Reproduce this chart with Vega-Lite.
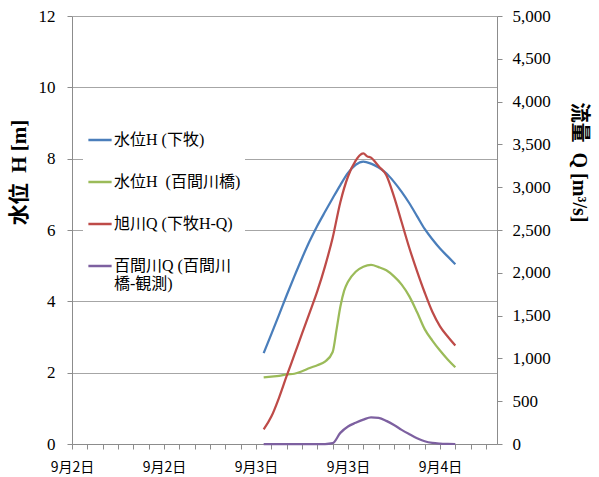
{
  "$schema": "https://vega.github.io/schema/vega-lite/v6.json",
  "autosize": {"type": "none"},
  "padding": {"left": 72, "top": 16, "right": 102, "bottom": 33},
  "width": 425,
  "height": 428,
  "background": "white",
  "datasets": {
    "level": [
      {"t": "2011-09-03T01:00", "s": "水位H (下牧)", "v": 2.55},
      {"t": "2011-09-03T02:00", "s": "水位H (下牧)", "v": 3.08},
      {"t": "2011-09-03T03:00", "s": "水位H (下牧)", "v": 3.62},
      {"t": "2011-09-03T04:00", "s": "水位H (下牧)", "v": 4.17},
      {"t": "2011-09-03T05:00", "s": "水位H (下牧)", "v": 4.70},
      {"t": "2011-09-03T06:00", "s": "水位H (下牧)", "v": 5.21},
      {"t": "2011-09-03T07:00", "s": "水位H (下牧)", "v": 5.69},
      {"t": "2011-09-03T08:00", "s": "水位H (下牧)", "v": 6.12},
      {"t": "2011-09-03T09:00", "s": "水位H (下牧)", "v": 6.51},
      {"t": "2011-09-03T10:00", "s": "水位H (下牧)", "v": 6.89},
      {"t": "2011-09-03T11:00", "s": "水位H (下牧)", "v": 7.26},
      {"t": "2011-09-03T12:00", "s": "水位H (下牧)", "v": 7.60},
      {"t": "2011-09-03T13:00", "s": "水位H (下牧)", "v": 7.83},
      {"t": "2011-09-03T14:00", "s": "水位H (下牧)", "v": 7.92},
      {"t": "2011-09-03T15:00", "s": "水位H (下牧)", "v": 7.86},
      {"t": "2011-09-03T16:00", "s": "水位H (下牧)", "v": 7.75},
      {"t": "2011-09-03T17:00", "s": "水位H (下牧)", "v": 7.59},
      {"t": "2011-09-03T18:00", "s": "水位H (下牧)", "v": 7.35},
      {"t": "2011-09-03T19:00", "s": "水位H (下牧)", "v": 7.07},
      {"t": "2011-09-03T20:00", "s": "水位H (下牧)", "v": 6.75},
      {"t": "2011-09-03T21:00", "s": "水位H (下牧)", "v": 6.39},
      {"t": "2011-09-03T22:00", "s": "水位H (下牧)", "v": 6.03},
      {"t": "2011-09-03T23:00", "s": "水位H (下牧)", "v": 5.74},
      {"t": "2011-09-04T00:00", "s": "水位H (下牧)", "v": 5.48},
      {"t": "2011-09-04T01:00", "s": "水位H (下牧)", "v": 5.26},
      {"t": "2011-09-04T02:00", "s": "水位H (下牧)", "v": 5.04},
      {"t": "2011-09-03T01:00", "s": "水位H  (百間川橋)", "v": 1.87},
      {"t": "2011-09-03T02:00", "s": "水位H  (百間川橋)", "v": 1.89},
      {"t": "2011-09-03T03:00", "s": "水位H  (百間川橋)", "v": 1.91},
      {"t": "2011-09-03T04:00", "s": "水位H  (百間川橋)", "v": 1.95},
      {"t": "2011-09-03T05:00", "s": "水位H  (百間川橋)", "v": 1.97},
      {"t": "2011-09-03T06:00", "s": "水位H  (百間川橋)", "v": 2.04},
      {"t": "2011-09-03T07:00", "s": "水位H  (百間川橋)", "v": 2.13},
      {"t": "2011-09-03T08:00", "s": "水位H  (百間川橋)", "v": 2.21},
      {"t": "2011-09-03T09:00", "s": "水位H  (百間川橋)", "v": 2.31},
      {"t": "2011-09-03T10:00", "s": "水位H  (百間川橋)", "v": 2.58},
      {"t": "2011-09-03T10:30", "s": "水位H  (百間川橋)", "v": 3.20},
      {"t": "2011-09-03T11:00", "s": "水位H  (百間川橋)", "v": 3.85},
      {"t": "2011-09-03T11:30", "s": "水位H  (百間川橋)", "v": 4.30},
      {"t": "2011-09-03T12:00", "s": "水位H  (百間川橋)", "v": 4.55},
      {"t": "2011-09-03T13:00", "s": "水位H  (百間川橋)", "v": 4.83},
      {"t": "2011-09-03T14:00", "s": "水位H  (百間川橋)", "v": 4.97},
      {"t": "2011-09-03T15:00", "s": "水位H  (百間川橋)", "v": 5.02},
      {"t": "2011-09-03T16:00", "s": "水位H  (百間川橋)", "v": 4.96},
      {"t": "2011-09-03T17:00", "s": "水位H  (百間川橋)", "v": 4.87},
      {"t": "2011-09-03T18:00", "s": "水位H  (百間川橋)", "v": 4.70},
      {"t": "2011-09-03T19:00", "s": "水位H  (百間川橋)", "v": 4.47},
      {"t": "2011-09-03T20:00", "s": "水位H  (百間川橋)", "v": 4.14},
      {"t": "2011-09-03T21:00", "s": "水位H  (百間川橋)", "v": 3.70},
      {"t": "2011-09-03T22:00", "s": "水位H  (百間川橋)", "v": 3.22},
      {"t": "2011-09-03T23:00", "s": "水位H  (百間川橋)", "v": 2.90},
      {"t": "2011-09-04T00:00", "s": "水位H  (百間川橋)", "v": 2.62},
      {"t": "2011-09-04T01:00", "s": "水位H  (百間川橋)", "v": 2.37},
      {"t": "2011-09-04T02:00", "s": "水位H  (百間川橋)", "v": 2.15}
    ],
    "flow": [
      {"t": "2011-09-03T01:00", "s": "旭川Q (下牧H-Q)", "v": 170},
      {"t": "2011-09-03T02:00", "s": "旭川Q (下牧H-Q)", "v": 320},
      {"t": "2011-09-03T03:00", "s": "旭川Q (下牧H-Q)", "v": 540},
      {"t": "2011-09-03T04:00", "s": "旭川Q (下牧H-Q)", "v": 795},
      {"t": "2011-09-03T05:00", "s": "旭川Q (下牧H-Q)", "v": 1040},
      {"t": "2011-09-03T06:00", "s": "旭川Q (下牧H-Q)", "v": 1290},
      {"t": "2011-09-03T07:00", "s": "旭川Q (下牧H-Q)", "v": 1535},
      {"t": "2011-09-03T08:00", "s": "旭川Q (下牧H-Q)", "v": 1785},
      {"t": "2011-09-03T09:00", "s": "旭川Q (下牧H-Q)", "v": 2075},
      {"t": "2011-09-03T10:00", "s": "旭川Q (下牧H-Q)", "v": 2410},
      {"t": "2011-09-03T11:00", "s": "旭川Q (下牧H-Q)", "v": 2825},
      {"t": "2011-09-03T12:00", "s": "旭川Q (下牧H-Q)", "v": 3125},
      {"t": "2011-09-03T13:00", "s": "旭川Q (下牧H-Q)", "v": 3310},
      {"t": "2011-09-03T13:30", "s": "旭川Q (下牧H-Q)", "v": 3370},
      {"t": "2011-09-03T14:00", "s": "旭川Q (下牧H-Q)", "v": 3395},
      {"t": "2011-09-03T14:30", "s": "旭川Q (下牧H-Q)", "v": 3360},
      {"t": "2011-09-03T15:00", "s": "旭川Q (下牧H-Q)", "v": 3345},
      {"t": "2011-09-03T15:30", "s": "旭川Q (下牧H-Q)", "v": 3300},
      {"t": "2011-09-03T16:00", "s": "旭川Q (下牧H-Q)", "v": 3245},
      {"t": "2011-09-03T17:00", "s": "旭川Q (下牧H-Q)", "v": 3140},
      {"t": "2011-09-03T18:00", "s": "旭川Q (下牧H-Q)", "v": 2890},
      {"t": "2011-09-03T19:00", "s": "旭川Q (下牧H-Q)", "v": 2590},
      {"t": "2011-09-03T20:00", "s": "旭川Q (下牧H-Q)", "v": 2290},
      {"t": "2011-09-03T21:00", "s": "旭川Q (下牧H-Q)", "v": 2020},
      {"t": "2011-09-03T22:00", "s": "旭川Q (下牧H-Q)", "v": 1770},
      {"t": "2011-09-03T23:00", "s": "旭川Q (下牧H-Q)", "v": 1545},
      {"t": "2011-09-04T00:00", "s": "旭川Q (下牧H-Q)", "v": 1375},
      {"t": "2011-09-04T01:00", "s": "旭川Q (下牧H-Q)", "v": 1255},
      {"t": "2011-09-04T02:00", "s": "旭川Q (下牧H-Q)", "v": 1150},
      {"t": "2011-09-03T01:00", "s": "百間川Q (百間川橋-観測)", "v": 0},
      {"t": "2011-09-03T03:00", "s": "百間川Q (百間川橋-観測)", "v": 0},
      {"t": "2011-09-03T05:00", "s": "百間川Q (百間川橋-観測)", "v": 0},
      {"t": "2011-09-03T07:00", "s": "百間川Q (百間川橋-観測)", "v": 0},
      {"t": "2011-09-03T09:00", "s": "百間川Q (百間川橋-観測)", "v": 0},
      {"t": "2011-09-03T10:00", "s": "百間川Q (百間川橋-観測)", "v": 10},
      {"t": "2011-09-03T11:00", "s": "百間川Q (百間川橋-観測)", "v": 130},
      {"t": "2011-09-03T12:00", "s": "百間川Q (百間川橋-観測)", "v": 205},
      {"t": "2011-09-03T13:00", "s": "百間川Q (百間川橋-観測)", "v": 248},
      {"t": "2011-09-03T14:00", "s": "百間川Q (百間川橋-観測)", "v": 285},
      {"t": "2011-09-03T15:00", "s": "百間川Q (百間川橋-観測)", "v": 312},
      {"t": "2011-09-03T16:00", "s": "百間川Q (百間川橋-観測)", "v": 305},
      {"t": "2011-09-03T17:00", "s": "百間川Q (百間川橋-観測)", "v": 270},
      {"t": "2011-09-03T18:00", "s": "百間川Q (百間川橋-観測)", "v": 222},
      {"t": "2011-09-03T19:00", "s": "百間川Q (百間川橋-観測)", "v": 165},
      {"t": "2011-09-03T20:00", "s": "百間川Q (百間川橋-観測)", "v": 115},
      {"t": "2011-09-03T21:00", "s": "百間川Q (百間川橋-観測)", "v": 68},
      {"t": "2011-09-03T22:00", "s": "百間川Q (百間川橋-観測)", "v": 32},
      {"t": "2011-09-03T23:00", "s": "百間川Q (百間川橋-観測)", "v": 12},
      {"t": "2011-09-04T00:00", "s": "百間川Q (百間川橋-観測)", "v": 4},
      {"t": "2011-09-04T01:00", "s": "百間川Q (百間川橋-観測)", "v": 1},
      {"t": "2011-09-04T02:00", "s": "百間川Q (百間川橋-観測)", "v": 0}
    ]
  },
  "encoding": {
    "x": {
      "field": "t",
      "type": "temporal",
      "scale": {
        "domain": [
          {"year": 2011, "month": 9, "date": 2, "hours": 0},
          {"year": 2011, "month": 9, "date": 4, "hours": 7, "minutes": 26}
        ]
      },
      "axis": {
        "title": null,
        "grid": false,
        "values": [
          {"year": 2011, "month": 9, "date": 2, "hours": 0},
          {"year": 2011, "month": 9, "date": 2, "hours": 2},
          {"year": 2011, "month": 9, "date": 2, "hours": 4},
          {"year": 2011, "month": 9, "date": 2, "hours": 6},
          {"year": 2011, "month": 9, "date": 2, "hours": 8},
          {"year": 2011, "month": 9, "date": 2, "hours": 10},
          {"year": 2011, "month": 9, "date": 2, "hours": 12},
          {"year": 2011, "month": 9, "date": 2, "hours": 14},
          {"year": 2011, "month": 9, "date": 2, "hours": 16},
          {"year": 2011, "month": 9, "date": 2, "hours": 18},
          {"year": 2011, "month": 9, "date": 2, "hours": 20},
          {"year": 2011, "month": 9, "date": 2, "hours": 22},
          {"year": 2011, "month": 9, "date": 3, "hours": 0},
          {"year": 2011, "month": 9, "date": 3, "hours": 2},
          {"year": 2011, "month": 9, "date": 3, "hours": 4},
          {"year": 2011, "month": 9, "date": 3, "hours": 6},
          {"year": 2011, "month": 9, "date": 3, "hours": 8},
          {"year": 2011, "month": 9, "date": 3, "hours": 10},
          {"year": 2011, "month": 9, "date": 3, "hours": 12},
          {"year": 2011, "month": 9, "date": 3, "hours": 14},
          {"year": 2011, "month": 9, "date": 3, "hours": 16},
          {"year": 2011, "month": 9, "date": 3, "hours": 18},
          {"year": 2011, "month": 9, "date": 3, "hours": 20},
          {"year": 2011, "month": 9, "date": 3, "hours": 22},
          {"year": 2011, "month": 9, "date": 4, "hours": 0},
          {"year": 2011, "month": 9, "date": 4, "hours": 2},
          {"year": 2011, "month": 9, "date": 4, "hours": 4},
          {"year": 2011, "month": 9, "date": 4, "hours": 6}
        ],
        "labelExpr": "hours(datum.value) % 12 === 0 ? timeFormat(datum.value, '%-m月%-d日') : ''",
        "tickSize": 5,
        "labelFont": "Noto Sans CJK JP",
        "labelFontSize": 14,
        "labelColor": "#000000",
        "labelPadding": 11,
        "labelFlush": false,
        "labelOverlap": false,
        "domainColor": "#8c8c8c",
        "tickColor": "#8c8c8c",
        "encode": {
          "ticks": {
            "update": {
              "y": {"signal": "hours(datum.value) % 12 === 0 ? -3 : -4"},
              "y2": {"signal": "hours(datum.value) % 12 === 0 ? 5 : 0"}
            }
          }
        }
      }
    },
    "color": {
      "field": "s",
      "type": "nominal",
      "scale": {
        "domain": ["水位H (下牧)", "水位H  (百間川橋)", "旭川Q (下牧H-Q)", "百間川Q (百間川橋-観測)"],
        "range": ["#4a7ebb", "#9bbb59", "#be4b48", "#7d60a0"]
      },
      "legend": {
        "orient": "none",
        "legendX": 11,
        "legendY": 107,
        "title": null,
        "fillColor": "white",
        "padding": 4,
        "rowPadding": 21,
        "symbolType": "stroke",
        "symbolSize": 540,
        "symbolStrokeWidth": 2.5,
        "labelOffset": 1,
        "labelFont": "Liberation Serif, Noto Sans CJK JP",
        "labelFontSize": 16,
        "labelColor": "#000000",
        "labelLimit": 300,
        "labelExpr": "datum.label === '百間川Q (百間川橋-観測)' ? ['百間川Q (百間川', '橋-観測)'] : datum.label === '水位H  (百間川橋)' ? '水位H\u00a0 (百間川橋)' : datum.label"
      }
    }
  },
  "layer": [
    {
      "data": {"name": "level"},
      "mark": {"type": "line", "strokeWidth": 2.25, "interpolate": "monotone"},
      "encoding": {
        "y": {
          "field": "v",
          "type": "quantitative",
          "scale": {"domain": [0, 12], "nice": false},
          "axis": {
            "orient": "left",
            "values": [0, 2, 4, 6, 8, 10, 12],
            "title": "水位\u00a0 H [m]",
            "titleFont": "Liberation Serif, Noto Sans CJK JP",
            "titleFontSize": 21,
            "titleFontWeight": "bold",
            "titleColor": "#000000",
            "titleX": -53,
            "titleY": 156,
            "titleBaseline": "middle",
            "titleAngle": -90,
            "labelFont": "Liberation Serif",
            "labelFontSize": 17,
            "labelColor": "#000000",
            "labelPadding": 12,
            "tickSize": 5,
            "tickColor": "#8c8c8c",
            "domainColor": "#8c8c8c",
            "grid": true,
            "gridColor": "#a6a6a6",
            "gridWidth": 1
          }
        }
      }
    },
    {
      "data": {"name": "flow"},
      "mark": {"type": "line", "strokeWidth": 2.25, "interpolate": "monotone"},
      "encoding": {
        "y": {
          "field": "v",
          "type": "quantitative",
          "scale": {"domain": [0, 5000], "nice": false},
          "axis": {
            "orient": "right",
            "values": [0, 500, 1000, 1500, 2000, 2500, 3000, 3500, 4000, 4500, 5000],
            "format": ",.0f",
            "title": "流量\u00a0 Q [m³/s]",
            "titleFont": "Liberation Serif, Noto Sans CJK JP",
            "titleFontSize": 20,
            "titleFontWeight": "bold",
            "titleColor": "#000000",
            "titleX": 81,
            "titleY": 146,
            "titleBaseline": "middle",
            "titleAngle": 90,
            "labelFont": "Liberation Serif",
            "labelFontSize": 17,
            "labelColor": "#000000",
            "labelPadding": 10,
            "tickSize": 5,
            "tickColor": "#8c8c8c",
            "domainColor": "#8c8c8c",
            "grid": false
          }
        }
      }
    }
  ],
  "resolve": {"scale": {"y": "independent"}},
  "config": {
    "view": {"stroke": null}
  }
}
